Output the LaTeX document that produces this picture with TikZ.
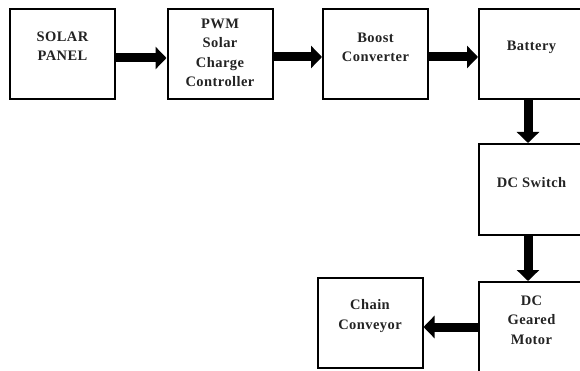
\documentclass[tikz,border=0pt]{standalone}
\usepackage{fontspec}
\setmainfont{Liberation Serif}[LetterSpace=3]
\usetikzlibrary{arrows.meta}
\definecolor{TxtClr}{RGB}{35,35,35}

\begin{document}
\begin{tikzpicture}[x=1pt,y=-1pt,
  blk/.style={draw,line width=2pt,minimum width=105pt,minimum height=90pt,inner sep=0pt},
  txt/.style={align=center,font=\fontsize{14.5}{19.5}\selectfont\bfseries,text=TxtClr},
  fat/.style={line width=9pt,-{Triangle[width=22pt,length=11pt]}}]
\useasboundingbox (0,0) rectangle (580,371);
\clip (0,0) rectangle (580,371);

\node[blk] (solar) at (62.5,54) {};
\node[blk] (pwm) at (220,54) {};
\node[blk] (boost) at (375.5,54) {};
\node[blk] (battery) at (531.5,54) {};
\node[blk,minimum height=91pt] (switch) at (531.5,189.5) {};
\node[blk] (motor) at (531.5,327) {};
\node[blk] (chain) at (370,323) {};

\node[txt] (solarT) at (62.5,46) {SOLAR\\PANEL};
\node[txt] (pwmT) at (220,53) {PWM\\Solar\\Charge\\Controller};
\node[txt] (boostT) at (375.5,47.5) {Boost\\Converter};
\node[txt] (batteryT) at (531.5,47) {Battery};
\node[txt] (switchT) at (531.5,183) {DC Switch};
\node[txt] (motorT) at (531.5,320) {DC\\Geared\\Motor};
\node[txt] (chainT) at (370,316) {Chain\\Conveyor};

\draw[fat] ([yshift=-4pt]solar.east) -- ([yshift=-4pt]pwm.west);
\draw[fat] ([yshift=-3pt]pwm.east) -- ([yshift=-3pt]boost.west);
\draw[fat] ([yshift=-3pt]boost.east) -- ([yshift=-3pt]battery.west);
\draw[fat] ([xshift=-3.5pt]battery.south) -- ([xshift=-3.5pt]switch.north);
\draw[fat] ([xshift=-3.5pt]switch.south) -- ([xshift=-3.5pt]motor.north);
\draw[fat] (motor.west) -- (motor.west -| chain.east);

\end{tikzpicture}
\end{document}
